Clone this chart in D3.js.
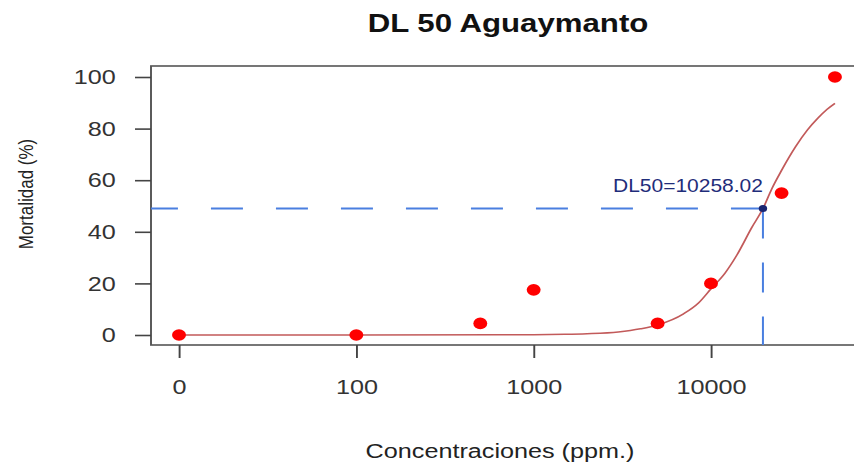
<!DOCTYPE html>
<html>
<head>
<meta charset="utf-8">
<script src="https://cdn.jsdelivr.net/npm/d3@7"></script>
<style>
  body { margin: 0; background: #fff; }
  text { font-family: "Liberation Sans", Arial, Helvetica, sans-serif; }
</style>
</head>
<body>
<div id="chart"></div>
<script>
// Observed points (the 0 ppm dose sits at the first log tick, 10)
var concentrations = [10, 100, 500, 1000, 5000, 10000, 25000, 50000];
var mortality = [0, 0, 4.5, 17.5, 4.5, 20, 55, 100];

// Fitted curve
var curveConc = [10, 100, 1000, 1500, 2000, 3000, 4000, 5000, 7000, 8500, 10000, 12000, 14000, 17000, 19630, 22000, 25000, 30000, 35000, 40000, 45000, 50000];
var curveMort = [0, 0, 0.1, 0.25, 0.5, 1.2, 2.4, 3.9, 8.2, 12.4, 17.9, 24, 31, 41.7, 49, 56.6, 63.8, 73, 79.5, 84, 87.4, 89.8];

var xTicks = [10, 100, 1000, 10000];
var xTickLabels = ['0', '100', '1000', '10000'];
var yTicks = [0, 20, 40, 60, 80, 100];

var dl50Conc = 19630;
var dl50Mort = 49;
var dl50Label = 'DL50=10258.02';

// The reference is stretched sideways, so draw in a squeezed space and scale it back
var width = 854, height = 464;
var sx = 1.2;

var svg = d3.select('#chart').append('svg')
  .attr('width', width)
  .attr('height', height);

var g = svg.append('g')
  .attr('transform', 'scale(' + sx + ' 1)');

var boxLeft = 151, boxTop = 66, boxBottom = 345;

var x = d3.scaleLog()
  .domain([10, 10000])
  .range([179 / sx, 711 / sx]);

var y = d3.scaleLinear()
  .domain([0, 100])
  .range([335, 77]);

// Title
g.append('text')
  .attr('x', 508 / sx)
  .attr('y', 32)
  .attr('text-anchor', 'middle')
  .attr('font-size', 26)
  .attr('font-weight', 'bold')
  .attr('fill', '#111')
  .text('DL 50 Aguaymanto');

// Plot box (right side runs off the picture)
g.append('rect')
  .attr('x', boxLeft / sx)
  .attr('y', boxTop)
  .attr('width', (width + 20 - boxLeft) / sx)
  .attr('height', boxBottom - boxTop)
  .attr('fill', 'none')
  .attr('stroke', '#555')
  .attr('stroke-width', 1.6);

// Axes
var xAxis = g.append('g')
  .attr('transform', 'translate(0,' + boxBottom + ')')
  .call(d3.axisBottom(x)
    .tickValues(xTicks)
    .tickFormat((d, i) => xTickLabels[i])
    .tickSize(13)
    .tickPadding(21));

var yAxis = g.append('g')
  .attr('transform', 'translate(' + boxLeft / sx + ',0)')
  .call(d3.axisLeft(y)
    .tickValues(yTicks)
    .tickSize(16 / sx)
    .tickPadding(16));

[xAxis, yAxis].forEach(a => {
  a.select('.domain').remove();
  a.selectAll('line').attr('stroke', '#444').attr('stroke-width', 1.6);
  a.selectAll('text')
    .attr('font-size', 21)
    .attr('fill', '#333')
    .attr('font-family', '"Liberation Sans", Arial, sans-serif');
});

// Axis titles
g.append('text')
  .attr('x', 500 / sx)
  .attr('y', 458)
  .attr('text-anchor', 'middle')
  .attr('font-size', 21)
  .attr('fill', '#222')
  .text('Concentraciones (ppm.)');

g.append('text')
  .attr('transform', 'translate(' + 26 / sx + ',194) rotate(-90)')
  .attr('text-anchor', 'middle')
  .attr('dy', '0.35em')
  .attr('font-size', 17)
  .attr('fill', '#222')
  .text('Mortalidad (%)');

// DL50 guide lines, dashes start at the DL50 point
g.append('line')
  .attr('x1', x(dl50Conc)).attr('y1', y(dl50Mort))
  .attr('x2', boxLeft / sx).attr('y2', y(dl50Mort))
  .attr('stroke', '#4a7fe0')
  .attr('stroke-width', 2)
  .attr('stroke-dasharray', (32 / sx) + ' ' + (33 / sx));

g.append('line')
  .attr('x1', x(dl50Conc)).attr('y1', y(dl50Mort))
  .attr('x2', x(dl50Conc)).attr('y2', boxBottom)
  .attr('stroke', '#4a7fe0')
  .attr('stroke-width', 2 / sx)
  .attr('stroke-dasharray', '30 24');

// Fitted curve
var curveData = curveConc.map((c, i) => [c, curveMort[i]]);
g.append('path')
  .datum(curveData)
  .attr('fill', 'none')
  .attr('stroke', '#c25a5a')
  .attr('stroke-width', 1.5)
  .attr('d', d3.line()
    .x(d => x(d[0]))
    .y(d => y(d[1]))
    .curve(d3.curveMonotoneX));

// Observed points
g.selectAll('.pt')
  .data(concentrations.map((c, i) => [c, mortality[i]]))
  .join('circle')
    .attr('class', 'pt')
    .attr('cx', d => x(d[0]))
    .attr('cy', d => y(d[1]))
    .attr('r', 5.8)
    .attr('fill', '#ff0000');

// DL50 point and label
g.append('circle')
  .attr('cx', x(dl50Conc))
  .attr('cy', y(dl50Mort))
  .attr('r', 3.5)
  .attr('fill', '#1a2470');

g.append('text')
  .attr('x', x(dl50Conc))
  .attr('y', 192)
  .attr('text-anchor', 'end')
  .attr('font-size', 17.5)
  .attr('fill', '#1f2d7a')
  .text(dl50Label);
</script>
</body>
</html>
